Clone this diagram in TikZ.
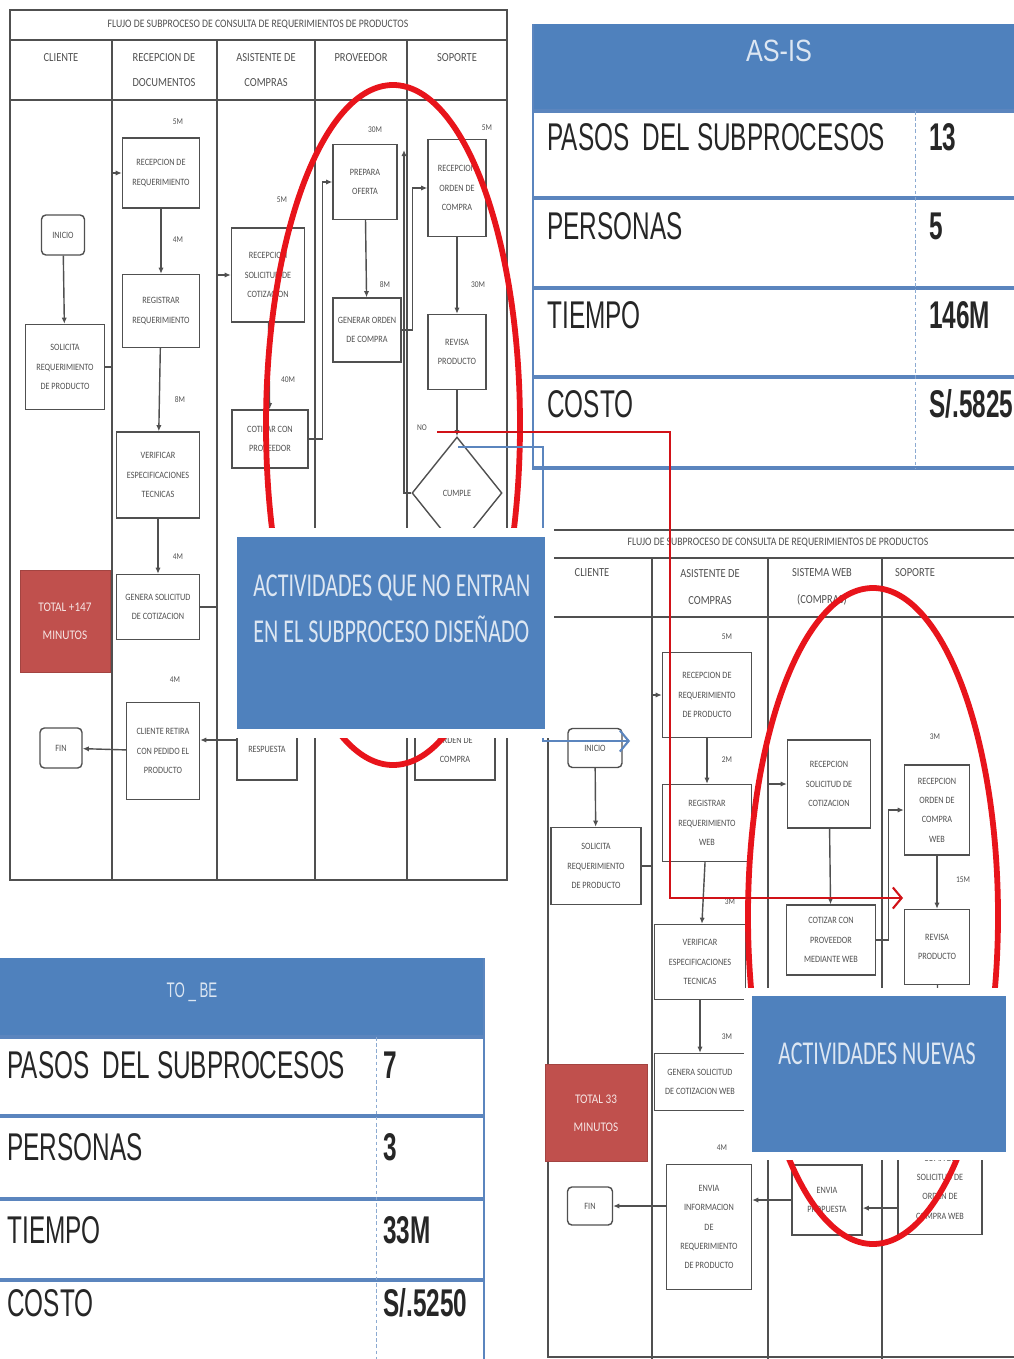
\documentclass[tikz,border=0pt]{standalone}
\usepackage{fontspec}
\setmainfont{Liberation Sans}
\newfontfamily\tabfont[FakeStretch=0.63]{Liberation Sans}
\newfontfamily\headfont[FakeStretch=0.82]{Liberation Sans}
\newfontfamily\notefont[FakeStretch=0.66]{Carlito}
\newfontfamily\flowfont[FakeStretch=0.85]{Carlito}
\usetikzlibrary{arrows.meta,shapes.geometric,shadows}
\definecolor{hdrblue}{HTML}{4F81BD}
\definecolor{lineblue}{HTML}{5B85BE}
\definecolor{totred}{HTML}{C0504D}
\definecolor{markred}{HTML}{E8141B}
\definecolor{flowgray}{HTML}{505050}
\definecolor{paleblue}{HTML}{DCE6F2}

\begin{document}
\begin{tikzpicture}[x=0.02cm,y=-0.02cm,
  sz/.style 2 args={minimum width=#1*0.02cm,minimum height=#2*0.02cm},
  lane/.style={draw=flowgray,line width=1pt},
  lhdr/.style={text=flowgray,align=center,font=\flowfont\fontsize{7}{14}\selectfont},
  proc/.style={draw=flowgray,line width=0.8pt,fill=white,text=flowgray,align=center,inner sep=1pt,font=\flowfont\fontsize{5.5}{11}\selectfont},
  term/.style={proc,rounded corners=2.5pt},
  cond/.style={proc,diamond},
  tlbl/.style={text=flowgray,font=\flowfont\fontsize{5}{6}\selectfont},
  flow/.style={draw=flowgray,line width=0.8pt,-{Latex[length=3.5pt,width=3pt]}},
  total/.style={fill=totred,draw=totred!85!black,text=white!85!totred,align=center,font=\flowfont\fontsize{7.5}{16}\selectfont},
  ring/.style={draw=markred,line width=3.3pt},
  link/.style={line width=1.2pt,-{Straight Barb[length=5pt,width=12pt]}},
  notebox/.style={fill=hdrblue,draw=white,line width=5pt,drop shadow={opacity=0.25,shadow xshift=1.5pt,shadow yshift=-1.5pt}},
  notetxt/.style={text=paleblue,align=left,inner sep=0pt,font=\notefont\fontsize{19}{26.5}\selectfont},
  rowline/.style={draw=lineblue,line width=1.8pt},
  sepline/.style={draw=lineblue!70,line width=0.5pt,dash pattern=on 2pt off 1.5pt},
  rowtxt/.style={anchor=west,inner sep=0pt,text=black!85,font=\tabfont\fontsize{22}{24}\selectfont},
  rowval/.style={rowtxt,font=\tabfont\bfseries\fontsize{22}{24}\selectfont}
]
\clip (0,0) rectangle (1014,1359);

\draw[lane] (10,10) rectangle (507,880);
\draw[lane] (10,40) -- (507,40);
\draw[lane] (10,100) -- (507,100);
\foreach \xx in {112,217,315,407} \draw[lane] (\xx,40) -- (\xx,880);

\node[lhdr,font=\flowfont\fontsize{6.5}{8}\selectfont] (titulo1) at (258,25) {FLUJO DE SUBPROCESO DE CONSULTA DE REQUERIMIENTOS DE PRODUCTOS};
\node[lhdr] (cli1) at (61,58) {CLIENTE};
\node[lhdr] (rdoc1) at (164,70) {RECEPCION DE\\DOCUMENTOS};
\node[lhdr] (asis1) at (266,70) {ASISTENTE DE\\COMPRAS};
\node[lhdr] (prov1) at (361,58) {PROVEEDOR};
\node[lhdr] (sop1) at (457,58) {SOPORTE};

\node[term,sz={43}{40}] (inicio1) at (63,235) {INICIO};
\node[proc,sz={79}{85}] (solic1) at (65,367) {SOLICITA\\REQUERIMIENTO\\DE PRODUCTO};
\node[proc,sz={77}{70}] (recreq1) at (161,173) {RECEPCION DE\\REQUERIMIENTO};
\node[proc,sz={77}{73}] (regreq1) at (161,311) {REGISTRAR\\REQUERIMIENTO};
\node[proc,sz={83}{86}] (verif1) at (158,475) {VERIFICAR\\ESPECIFICACIONES\\TECNICAS};
\node[proc,sz={83}{65}] (gensol1) at (158,607) {GENERA SOLICITUD\\DE COTIZACION};
\node[proc,sz={73}{94}] (recsol1) at (268,275) {RECEPCION\\SOLICITUD DE\\COTIZACION};
\node[proc,sz={76}{58}] (cotiz1) at (270,439) {COTIZAR CON\\PROVEEDOR};
\node[proc,sz={64}{75}] (prepara1) at (365,182) {PREPARA\\OFERTA};
\node[proc,sz={68}{64}] (genord1) at (367,330) {GENERAR ORDEN\\DE COMPRA};
\node[proc,sz={58}{97}] (record1) at (457,188) {RECEPCION\\ORDEN DE\\COMPRA};
\node[proc,sz={58}{75}] (revisa1) at (457,352) {REVISA\\PRODUCTO};
\node[cond,sz={90}{112}] (cumple1) at (457,493) {CUMPLE};
\node[proc,sz={60}{80}] (resp1) at (267,740) {ENVIA\\RESPUESTA};
\node[proc,sz={80}{80}] (ordcomp1) at (455,740) {COPIA DE\\ORDEN DE\\COMPRA};
\node[proc,sz={73}{97}] (retira1) at (163,751) {CLIENTE RETIRA\\CON PEDIDO EL\\PRODUCTO};
\node[term,sz={42}{40}] (fin1) at (61,748) {FIN};
\node[total,sz={90}{102}] (total1) at (65,621) {TOTAL +147\\MINUTOS};
\coordinate (noback) at (404,150);

\draw[flow] (inicio1) -- (solic1);
\draw[flow] (solic1.east) -- ++(7,0) |- (recreq1.west);
\draw[flow] (recreq1) -- (regreq1);
\draw[flow] (regreq1) -- (verif1);
\draw[flow] (verif1) -- (gensol1);
\draw[flow] (gensol1.east) -- ++(16,0) |- (recsol1.west);
\draw[flow] (recsol1) -- (cotiz1);
\draw[flow] (cotiz1.east) -- ++(14,0) |- (prepara1.west);
\draw[flow] (prepara1) -- (genord1);
\draw[flow] (genord1.east) -- ++(11,0) |- (record1.west);
\draw[flow] (record1) -- (revisa1);
\draw[flow] (revisa1) -- (cumple1);
\draw[flow] (cumple1.west) -| (noback);
\draw[flow] (resp1.west) -- (resp1.west -| retira1.east);
\draw[flow] (retira1) -- (fin1);

\node[tlbl] (t1) at (178,122) {5M};
\node[tlbl] (t2) at (178,240) {4M};
\node[tlbl] (t3) at (180,400) {8M};
\node[tlbl] (t4) at (178,557) {4M};
\node[tlbl] (t5) at (282,200) {5M};
\node[tlbl] (t6) at (288,380) {40M};
\node[tlbl] (t7) at (375,130) {30M};
\node[tlbl] (t8) at (385,285) {8M};
\node[tlbl] (t9) at (487,128) {5M};
\node[tlbl] (t10) at (478,285) {30M};
\node[tlbl] (t11) at (175,680) {4M};
\node[tlbl] (nolbl) at (422,428) {NO};

\draw[ring] (393,425) ellipse (127 and 340);

\fill[hdrblue] (533,24) rectangle (1016,111);
\node[text=paleblue,font=\headfont\fontsize{17.5}{20}\selectfont] (asistit) at (779,51) {AS-IS};
\foreach \yy in {111,198,288,377,468} \draw[rowline] (533,\yy) -- (1016,\yy);
\draw[draw=lineblue,line width=0.6pt] (533,24) -- (533,470);
\draw[sepline] (915,111) -- (915,468);
\node[rowtxt] (asisl1) at (547,137) {PASOS~ DEL SUBPROCESOS};
\node[rowtxt] (asisl2) at (547,226) {PERSONAS};
\node[rowtxt] (asisl3) at (547,315) {TIEMPO};
\node[rowtxt] (asisl4) at (547,404) {COSTO};
\node[rowval] (asisv1) at (929,137) {13};
\node[rowval] (asisv2) at (929,226) {5};
\node[rowval] (asisv3) at (929,315) {146M};
\node[rowval] (asisv4) at (929,404) {S/.5825};

\fill[hdrblue] (-2,958) rectangle (484,1036);
\node[text=paleblue,font=\tabfont\fontsize{12}{14}\selectfont] (tobetit) at (192,992) {TO \_ BE};
\foreach \yy in {1037,1116,1199,1280} \draw[rowline] (-2,\yy) -- (484,\yy);
\draw[draw=lineblue,line width=0.6pt] (484,958) -- (484,1362);
\draw[sepline] (376,1037) -- (376,1362);
\node[rowtxt] (tobel1) at (7,1065) {PASOS~ DEL SUBPROCESOS};
\node[rowtxt] (tobel2) at (7,1147) {PERSONAS};
\node[rowtxt] (tobel3) at (7,1230) {TIEMPO};
\node[rowtxt] (tobel4) at (7,1303) {COSTO};
\node[rowval] (tobev1) at (383,1065) {7};
\node[rowval] (tobev2) at (383,1147) {3};
\node[rowval] (tobev3) at (383,1230) {33M};
\node[rowval] (tobev4) at (383,1303) {S/.5250};

\draw[lane,fill=white] (548,530) rectangle (1016,1357);
\draw[lane] (548,558) -- (1016,558);
\draw[lane] (548,617) -- (1016,617);
\foreach \xx in {652,768,882} \draw[lane] (\xx,558) -- (\xx,1362);

\node[lhdr,font=\flowfont\fontsize{6.5}{8}\selectfont] (titulo2) at (778,543) {FLUJO DE SUBPROCESO DE CONSULTA DE REQUERIMIENTOS DE PRODUCTOS};
\node[lhdr] (cli2) at (592,573) {CLIENTE};
\node[lhdr,font=\flowfont\fontsize{7}{15}\selectfont] (asis2) at (710,587) {ASISTENTE DE\\COMPRAS};
\node[lhdr,font=\flowfont\fontsize{7}{15}\selectfont] (web2) at (822,587) {SISTEMA WEB\\(COMPRAS)};
\node[lhdr] (sop2) at (915,573) {SOPORTE};

\node[term,sz={54}{39}] (inicio2) at (595,748) {INICIO};
\node[proc,sz={90}{77}] (solic2) at (596,866) {SOLICITA\\REQUERIMIENTO\\DE PRODUCTO};
\node[proc,sz={89}{85}] (recreq2) at (707,695) {RECEPCION DE\\REQUERIMIENTO\\DE PRODUCTO};
\node[proc,sz={89}{77}] (regreq2) at (707,823) {REGISTRAR\\REQUERIMIENTO\\WEB};
\node[proc,sz={91}{75}] (verif2) at (700,962) {VERIFICAR\\ESPECIFICACIONES\\TECNICAS};
\node[proc,sz={91}{57}] (gensol2) at (700,1082) {GENERA SOLICITUD\\DE COTIZACION WEB};
\node[proc,sz={83}{88}] (recsol2) at (829,784) {RECEPCION\\SOLICITUD DE\\COTIZACION};
\node[proc,sz={89}{70}] (cotiz2) at (831,940) {COTIZAR CON\\PROVEEDOR\\MEDIANTE WEB};
\node[proc,sz={65}{90}] (record2) at (937,810) {RECEPCION\\ORDEN DE\\COMPRA\\WEB};
\node[proc,sz={65}{75}] (revisa2) at (937,947) {REVISA\\PRODUCTO};
\node[proc,sz={84}{95}] (copia2) at (940,1187) {COPIA DE\\SOLICITUD DE\\ORDEN DE\\COMPRA WEB};
\node[proc,sz={70}{70}] (envprop2) at (827,1200) {ENVIA\\PROPUESTA};
\node[proc,sz={85}{125}] (envinf2) at (709,1227) {ENVIA\\INFORMACION\\DE\\REQUERIMIENTO\\DE PRODUCTO};
\node[term,sz={45}{38}] (fin2) at (590,1206) {FIN};
\node[total,sz={102}{97}] (total2) at (596,1113) {TOTAL 33\\MINUTOS};
\coordinate (c2out) at ([yshift=-12pt]copia2.west);

\draw[flow] (inicio2) -- (solic2);
\draw[flow] (solic2.east) -- ++(11,0) |- (recreq2.west);
\draw[flow] (recreq2) -- (regreq2);
\draw[flow] (regreq2) -- (verif2);
\draw[flow] (verif2) -- (gensol2);
\draw[flow] (gensol2.east) -- ++(22,0) |- (recsol2.west);
\draw[flow] (recsol2) -- (cotiz2);
\draw[flow] (cotiz2.east) -- ++(12,0) |- (record2.west);
\draw[flow] (record2) -- (revisa2);
\draw[flow] (revisa2) -- (copia2);
\draw[flow] (c2out) -- (c2out -| envprop2.east);
\draw[flow] (envprop2.west) -- (envprop2.west -| envinf2.east);
\draw[flow] (fin2.east -| envinf2.west) -- (fin2.east);

\node[tlbl] (u1) at (727,637) {5M};
\node[tlbl] (u2) at (727,760) {2M};
\node[tlbl] (u3) at (730,902) {3M};
\node[tlbl] (u4) at (727,1037) {3M};
\node[tlbl] (u5) at (935,737) {3M};
\node[tlbl] (u6) at (963,880) {15M};
\node[tlbl] (u7) at (722,1148) {4M};

\draw[ring] (873,916) ellipse (125 and 328);

\coordinate (nostart) at (437,432);
\coordinate (revisain) at (903,898);
\coordinate (sistart) at (458,447);
\coordinate (siend) at (630,741);
\draw[link,draw=markred!90!black] (nostart) -- ++(233,0) |- (revisain);
\draw[link,draw=lineblue] (sistart) -- ++(85,0) |- (siend);

\node[notebox,sz={317}{201}] (nota1) at (391,633) {};
\node[notetxt,anchor=north west] (nota1txt) at (253,574) {ACTIVIDADES QUE NO ENTRAN\\EN EL SUBPROCESO DISEÑADO};
\node[notebox,sz={262}{164}] (nota2) at (879,1074) {};
\node[notetxt,anchor=north] (nota2txt) at (877,1042) {ACTIVIDADES NUEVAS};
\end{tikzpicture}
\end{document}
